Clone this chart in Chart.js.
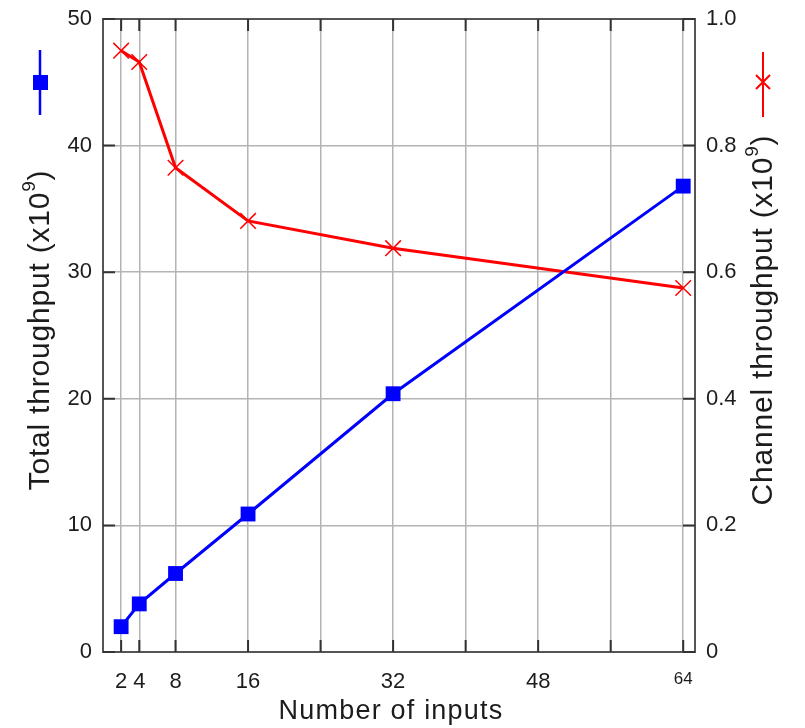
<!DOCTYPE html>
<html>
<head>
<meta charset="utf-8">
<script src="https://cdn.jsdelivr.net/npm/chart.js@4/dist/chart.umd.min.js"></script>
<style>
  body { margin: 0; background: #fff; }
  #wrap { width: 805px; height: 728px; position: relative; }
</style>
</head>
<body>
<div id="wrap"><canvas id="myChart"></canvas></div>
<script>
// data
var inputs = [2, 4, 8, 16, 32, 64];
var totalThroughput = [2.0, 3.8, 6.2, 10.9, 20.4, 36.8];
var channelThroughput = [0.950, 0.932, 0.765, 0.681, 0.638, 0.575];
var xTicks = [2, 4, 8, 16, 24, 32, 40, 48, 56, 64];
var xLabelled = [2, 4, 8, 16, 32, 48, 64];

var FONT = "'Liberation Sans', Arial, sans-serif";
var TEXT = '#1c1c1c';

function toPoints(xs, ys) {
    var out = [];
    for (var i = 0; i < xs.length; i++) out.push({x: xs[i], y: ys[i]});
    return out;
}

// text with a superscript "9", centred on (0,0) of current transform
function drawSupText(ctx, before, sup, after, size, spacing) {
    ctx.letterSpacing = spacing + 'px';
    ctx.font = size + "px " + FONT;
    var w1 = ctx.measureText(before).width;
    var w3 = ctx.measureText(after).width;
    ctx.font = Math.round(size * 0.62) + "px " + FONT;
    var w2 = ctx.measureText(sup).width;
    var x = -(w1 + w2 + w3) / 2;
    ctx.textAlign = 'left';
    ctx.textBaseline = 'middle';
    ctx.font = size + "px " + FONT;
    ctx.fillText(before, x, 0);
    ctx.font = Math.round(size * 0.62) + "px " + FONT;
    ctx.fillText(sup, x + w1, -size * 0.38);
    ctx.font = size + "px " + FONT;
    ctx.fillText(after, x + w1 + w2, 0);
    ctx.letterSpacing = '0px';
}

var extras = {
    id: 'extras',
    afterDraw: function(chart) {
        var ctx = chart.ctx;
        var a = chart.chartArea;
        var xs = chart.scales.x, yl = chart.scales.y;
        ctx.save();
        // top border
        ctx.strokeStyle = '#555';
        ctx.lineWidth = 2;
        ctx.beginPath();
        ctx.moveTo(a.left, a.top);
        ctx.lineTo(a.right, a.top);
        ctx.stroke();
        // inner tick marks
        ctx.strokeStyle = '#333';
        ctx.lineWidth = 2;
        ctx.beginPath();
        xTicks.forEach(function(v) {
            var px = xs.getPixelForValue(v);
            ctx.moveTo(px, a.bottom); ctx.lineTo(px, a.bottom - 12);
            ctx.moveTo(px, a.top); ctx.lineTo(px, a.top + 12);
        });
        for (var v = 0; v <= 50; v += 10) {
            var py = yl.getPixelForValue(v);
            ctx.moveTo(a.left, py); ctx.lineTo(a.left + 12, py);
            ctx.moveTo(a.right, py); ctx.lineTo(a.right - 12, py);
        }
        ctx.stroke();

        // legend glyphs
        ctx.strokeStyle = '#0000ff';
        ctx.fillStyle = '#0000ff';
        ctx.lineWidth = 2.5;
        ctx.beginPath();
        ctx.moveTo(40, 50); ctx.lineTo(40, 115);
        ctx.stroke();
        ctx.fillRect(33, 75, 15, 15);

        ctx.strokeStyle = '#ff0000';
        ctx.lineWidth = 2;
        ctx.beginPath();
        ctx.moveTo(763, 52); ctx.lineTo(763, 117);
        ctx.moveTo(756, 75); ctx.lineTo(770, 89);
        ctx.moveTo(770, 75); ctx.lineTo(756, 89);
        ctx.stroke();

        // axis titles
        ctx.fillStyle = TEXT;
        ctx.save();
        ctx.translate(41, 330);
        ctx.rotate(-Math.PI / 2);
        drawSupText(ctx, 'Total throughput (x10', '9', ')', 30, 0.8);
        ctx.restore();

        ctx.save();
        ctx.translate(764, 320);
        ctx.rotate(-Math.PI / 2);
        drawSupText(ctx, 'Channel throughput (x10', '9', ')', 30, 0.8);
        ctx.restore();

        ctx.letterSpacing = '1.2px';
        ctx.font = "27px " + FONT;
        ctx.textAlign = 'center';
        ctx.textBaseline = 'middle';
        ctx.fillText('Number of inputs', 391, 712);
        ctx.restore();
    }
};

const ctx1 = document.getElementById('myChart');

new Chart(ctx1, {
    type: 'line',
    data: {
        datasets: [{
            label: 'Total throughput',
            data: toPoints(inputs, totalThroughput),
            yAxisID: 'y',
            borderColor: '#0000ff',
            backgroundColor: '#0000ff',
            borderWidth: 3,
            pointStyle: 'rect',
            pointRadius: 10.5,
            pointBorderWidth: 0,
            tension: 0
        }, {
            label: 'Channel throughput',
            data: toPoints(inputs, channelThroughput),
            yAxisID: 'y2',
            borderColor: '#ff0000',
            backgroundColor: '#ff0000',
            borderWidth: 3,
            pointStyle: 'crossRot',
            pointRadius: 11,
            pointBorderWidth: 1.5,
            tension: 0
        }]
    },
    options: {
        responsive: true,
        maintainAspectRatio: false,
        animation: false,
        layout: { padding: { top: 19, left: 0, right: 0, bottom: 0 } },
        plugins: {
            legend: { display: false },
            tooltip: { enabled: false }
        },
        scales: {
            x: {
                type: 'linear',
                min: 0,
                max: 65.3,
                afterBuildTicks: function(scale) {
                    scale.ticks = xTicks.map(function(v) { return {value: v}; });
                },
                afterFit: function(scale) {
                    scale.height = 76;
                    scale.paddingLeft = 0;
                    scale.paddingRight = 0;
                },
                grid: { color: '#b4b4b4', lineWidth: 1.5, drawTicks: false },
                border: { color: '#555', width: 2 },
                ticks: {
                    padding: 17,
                    maxRotation: 0,
                    autoSkip: false,
                    color: TEXT,
                    font: function(c) {
                        return { family: FONT, size: (c.tick && c.tick.value === 64) ? 17 : 22 };
                    },
                    callback: function(v) { return xLabelled.indexOf(v) >= 0 ? String(v) : ''; }
                }
            },
            y: {
                position: 'left',
                min: 0,
                max: 50,
                afterFit: function(scale) {
                    scale.width = 103;
                    scale.paddingTop = 0;
                    scale.paddingBottom = 0;
                },
                grid: { color: '#b4b4b4', lineWidth: 1.5, drawTicks: false },
                border: { color: '#555', width: 2 },
                ticks: { stepSize: 10, padding: 11, color: TEXT, font: { family: FONT, size: 22 } }
            },
            y2: {
                position: 'right',
                min: 0,
                max: 1.0,
                afterFit: function(scale) {
                    scale.width = 110;
                    scale.paddingTop = 0;
                    scale.paddingBottom = 0;
                },
                grid: { drawOnChartArea: false, drawTicks: false },
                border: { color: '#555', width: 2 },
                ticks: {
                    stepSize: 0.2,
                    padding: 11,
                    color: TEXT,
                    font: { family: FONT, size: 22 },
                    callback: function(v) { return v === 0 ? '0' : v.toFixed(1); }
                }
            }
        }
    },
    plugins: [extras]
});
</script>
</body>
</html>
